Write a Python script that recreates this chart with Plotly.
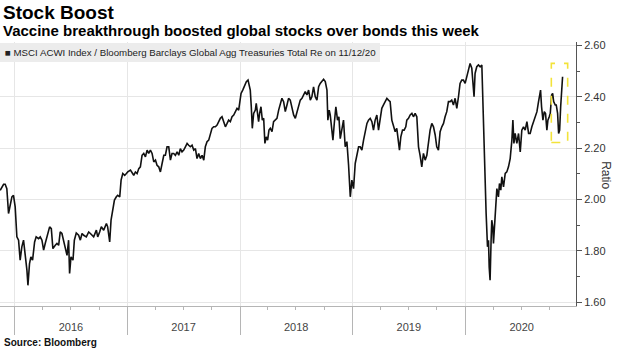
import datetime as dt
import plotly.graph_objects as go

# ---------------- data (decimal years -> ratio) ----------------
t_2016 = [2015.873, 2015.888, 2015.903, 2015.917, 2015.932, 2015.947, 2015.962, 2015.977, 2015.991,
          2016.006, 2016.021, 2016.036, 2016.050, 2016.065, 2016.080, 2016.095, 2016.110, 2016.119,
          2016.133, 2016.145, 2016.160, 2016.178, 2016.192, 2016.213, 2016.228, 2016.243, 2016.258,
          2016.272, 2016.287, 2016.311, 2016.326, 2016.340, 2016.361, 2016.376, 2016.391, 2016.405,
          2016.420, 2016.435, 2016.450, 2016.465, 2016.479, 2016.488, 2016.500, 2016.518, 2016.530,
          2016.547, 2016.568, 2016.583, 2016.598, 2016.613, 2016.636, 2016.657, 2016.672, 2016.701,
          2016.725, 2016.737, 2016.754, 2016.769, 2016.790, 2016.814, 2016.825, 2016.843, 2016.855,
          2016.867, 2016.885, 2016.902, 2016.914, 2016.932, 2016.944, 2016.959, 2016.976, 2016.991]
v_2016 = [2.035, 2.049, 2.059, 2.059, 2.042, 1.945, 1.977, 2.010, 2.016,
          1.971, 1.854, 1.841, 1.763, 1.815, 1.841, 1.789, 1.724, 1.665,
          1.750, 1.776, 1.763, 1.834, 1.854, 1.847, 1.854, 1.841, 1.802,
          1.828, 1.854, 1.893, 1.886, 1.808, 1.821, 1.828, 1.821, 1.873,
          1.867, 1.841, 1.808, 1.782, 1.841, 1.711, 1.776, 1.763, 1.841,
          1.869, 1.860, 1.841, 1.867, 1.860, 1.854, 1.873, 1.867, 1.854,
          1.880, 1.854, 1.873, 1.893, 1.880, 1.906, 1.893, 1.834, 1.919,
          1.945, 1.997, 2.010, 2.016, 2.010, 2.075, 2.101, 2.094, 2.101]

t_2017 = [2017.003, 2017.027, 2017.042, 2017.056, 2017.071, 2017.086, 2017.101, 2017.115, 2017.130,
          2017.145, 2017.160, 2017.175, 2017.189, 2017.204, 2017.219, 2017.234, 2017.249, 2017.263,
          2017.278, 2017.293, 2017.308, 2017.323, 2017.337, 2017.352, 2017.367, 2017.382, 2017.396,
          2017.411, 2017.426, 2017.441, 2017.456, 2017.470, 2017.485, 2017.500, 2017.515, 2017.530,
          2017.544, 2017.559, 2017.574, 2017.589, 2017.604, 2017.618, 2017.633, 2017.648, 2017.663,
          2017.678, 2017.692, 2017.707, 2017.722, 2017.737, 2017.751, 2017.766, 2017.781, 2017.796,
          2017.811, 2017.825, 2017.840, 2017.855, 2017.870, 2017.885, 2017.899, 2017.914, 2017.929,
          2017.944, 2017.959, 2017.973, 2017.988, 2017.997]
v_2017 = [2.107, 2.114, 2.101, 2.094, 2.107, 2.101, 2.120, 2.127, 2.172,
          2.179, 2.166, 2.192, 2.179, 2.192, 2.179, 2.146, 2.153, 2.133,
          2.127, 2.107, 2.140, 2.172, 2.172, 2.205, 2.205, 2.153, 2.179,
          2.179, 2.172, 2.185, 2.172, 2.198, 2.185, 2.192, 2.205, 2.218,
          2.211, 2.205, 2.211, 2.192, 2.198, 2.159, 2.179, 2.159, 2.172,
          2.153, 2.205, 2.225, 2.231, 2.251, 2.277, 2.283, 2.283, 2.290,
          2.303, 2.316, 2.322, 2.303, 2.283, 2.296, 2.309, 2.303, 2.322,
          2.329, 2.342, 2.355, 2.348, 2.374]

t_2018 = [2018.009, 2018.024, 2018.038, 2018.056, 2018.071, 2018.082, 2018.091, 2018.100, 2018.109,
          2018.121, 2018.136, 2018.144, 2018.156, 2018.165, 2018.174, 2018.186, 2018.198, 2018.210,
          2018.221, 2018.233, 2018.245, 2018.257, 2018.269, 2018.284, 2018.298, 2018.313, 2018.328,
          2018.343, 2018.357, 2018.372, 2018.387, 2018.402, 2018.417, 2018.431, 2018.446, 2018.461,
          2018.476, 2018.491, 2018.505, 2018.520, 2018.535, 2018.550, 2018.565, 2018.579, 2018.594,
          2018.609, 2018.624, 2018.638, 2018.653, 2018.668, 2018.683, 2018.698, 2018.712, 2018.727,
          2018.742, 2018.757, 2018.772, 2018.780, 2018.792, 2018.801, 2018.816, 2018.825, 2018.837,
          2018.851, 2018.866, 2018.878, 2018.890, 2018.905, 2018.919, 2018.934, 2018.949, 2018.964,
          2018.979, 2018.993]
v_2018 = [2.413, 2.426, 2.439, 2.459, 2.465, 2.439, 2.426, 2.361, 2.277,
          2.335, 2.348, 2.374, 2.342, 2.303, 2.335, 2.361, 2.309, 2.316,
          2.218, 2.244, 2.231, 2.270, 2.277, 2.264, 2.303, 2.309, 2.316,
          2.348, 2.374, 2.394, 2.381, 2.342, 2.368, 2.394, 2.387, 2.361,
          2.329, 2.316, 2.342, 2.368, 2.387, 2.394, 2.407, 2.420, 2.407,
          2.426, 2.387, 2.400, 2.439, 2.400, 2.387, 2.439, 2.452, 2.459,
          2.468, 2.459, 2.426, 2.309, 2.348, 2.329, 2.264, 2.231, 2.296,
          2.361, 2.309, 2.322, 2.237, 2.270, 2.309, 2.205, 2.225, 2.133,
          2.010, 2.075]

t_2019 = [2019.008, 2019.023, 2019.038, 2019.053, 2019.067, 2019.082, 2019.097, 2019.112, 2019.127,
          2019.141, 2019.156, 2019.171, 2019.185, 2019.200, 2019.215, 2019.230, 2019.244, 2019.259,
          2019.274, 2019.289, 2019.304, 2019.318, 2019.333, 2019.348, 2019.363, 2019.378, 2019.392,
          2019.407, 2019.416, 2019.428, 2019.443, 2019.457, 2019.472, 2019.481, 2019.496, 2019.511,
          2019.526, 2019.540, 2019.555, 2019.570, 2019.585, 2019.599, 2019.614, 2019.629, 2019.644,
          2019.659, 2019.673, 2019.688, 2019.703, 2019.718, 2019.733, 2019.747, 2019.762, 2019.777,
          2019.792, 2019.807, 2019.821, 2019.836, 2019.851, 2019.866, 2019.880, 2019.895, 2019.910,
          2019.925, 2019.940, 2019.954, 2019.969, 2019.984, 2019.999]
v_2019 = [2.042, 2.140, 2.179, 2.205, 2.205, 2.192, 2.231, 2.264, 2.296,
          2.309, 2.316, 2.303, 2.270, 2.309, 2.329, 2.270, 2.309, 2.355,
          2.368, 2.381, 2.394, 2.387, 2.381, 2.309, 2.290, 2.264, 2.277,
          2.231, 2.192, 2.244, 2.270, 2.270, 2.283, 2.309, 2.316, 2.329,
          2.335, 2.322, 2.335, 2.322, 2.205, 2.172, 2.127, 2.179, 2.153,
          2.172, 2.231, 2.270, 2.296, 2.283, 2.251, 2.205, 2.192, 2.264,
          2.283, 2.296, 2.322, 2.342, 2.381, 2.381, 2.387, 2.368, 2.394,
          2.355, 2.400, 2.452, 2.465, 2.465, 2.452]

t_2020 = [2020.014, 2020.028, 2020.043, 2020.058, 2020.067, 2020.078, 2020.087, 2020.102, 2020.117,
          2020.132, 2020.147, 2020.155, 2020.161, 2020.167, 2020.176, 2020.185, 2020.197, 2020.206,
          2020.212, 2020.220, 2020.229, 2020.235, 2020.244, 2020.250, 2020.259, 2020.271, 2020.280,
          2020.294, 2020.303, 2020.315, 2020.324, 2020.339, 2020.354, 2020.368, 2020.383, 2020.398,
          2020.413, 2020.422, 2020.431, 2020.442, 2020.457, 2020.472, 2020.487, 2020.501, 2020.516,
          2020.531, 2020.546, 2020.561, 2020.575, 2020.590, 2020.605, 2020.620, 2020.635, 2020.649,
          2020.658, 2020.667, 2020.676, 2020.688, 2020.700, 2020.711, 2020.723, 2020.732, 2020.744,
          2020.753, 2020.765, 2020.774, 2020.783, 2020.797, 2020.806, 2020.818, 2020.827, 2020.836,
          2020.845, 2020.853, 2020.862]
v_2020 = [2.478, 2.498, 2.530, 2.511, 2.439, 2.400, 2.491, 2.517, 2.524,
          2.517, 2.524, 2.387, 2.244, 2.179, 2.062, 1.945, 1.815, 1.841,
          1.737, 1.685, 1.841, 1.919, 1.893, 1.828, 1.893, 1.997, 2.042,
          2.010, 2.062, 2.036, 2.088, 2.049, 2.101, 2.107, 2.127, 2.159,
          2.231, 2.309, 2.218, 2.257, 2.218, 2.257, 2.185, 2.270, 2.283,
          2.270, 2.303, 2.257, 2.257, 2.283, 2.303, 2.316, 2.342, 2.381,
          2.413, 2.426, 2.361, 2.309, 2.342, 2.335, 2.270, 2.309, 2.322,
          2.335, 2.407, 2.413, 2.381, 2.368, 2.368, 2.335, 2.257, 2.270,
          2.361, 2.426, 2.478]

years = ["2016", "2017", "2018", "2019", "2020"]
y_ticks = [1.60, 1.80, 2.00, 2.20, 2.40, 2.60]

# highlighted "this week" box (dates / ratio values)
box_start, box_end = "2020-10-06", "2020-11-28"
box_low, box_high = 2.222, 2.530

title = "Stock Boost"
subtitle = "Vaccine breakthrough boosted global stocks over bonds this week"
legend_label = "MSCI ACWI Index / Bloomberg Barclays Global Agg Treasuries Total Re on 11/12/20"
source = "Source: Bloomberg"
axis_title = "Ratio"

# ---------------- helpers ----------------
def dec_to_date(t):
    y = int(t)
    start = dt.datetime(y, 1, 1)
    ndays = (dt.datetime(y + 1, 1, 1) - start).days
    return start + dt.timedelta(days=(t - y) * ndays)

t_all, v_all = [], []
for tt, vv in [(t_2016, v_2016), (t_2017, v_2017), (t_2018, v_2018), (t_2019, v_2019), (t_2020, v_2020)]:
    if len(tt) != len(vv):
        raise ValueError(f"length mismatch {len(tt)} vs {len(vv)} starting {tt[0]}")
    t_all += tt
    v_all += vv
dates = [dec_to_date(t) for t in t_all]

W, H = 620, 348
PL, PR, PT, PB = 0, 576, 42, 305.7  # plot area in pixels


def px(x):
    return (x - PL) / (PR - PL)


def py(y):
    return (PB - y) / (PB - PT)


x_range = ["2015-11-15", "2020-12-25"]
y_range = [1.5844, 2.6135]

fig = go.Figure()
fig.add_trace(go.Scatter(x=dates, y=v_all, mode="lines",
                         line=dict(color="#111111", width=1.6), showlegend=False,
                         hoverinfo="skip"))

fig.add_shape(type="rect", xref="x", yref="y", x0=box_start, x1=box_end, y0=box_low, y1=box_high,
              line=dict(color="#f3e33a", width=1.6, dash="dash"), fillcolor="rgba(0,0,0,0)")

# legend box
fig.add_shape(type="rect", xref="paper", yref="paper", x0=px(0), x1=px(380), y0=py(62), y1=py(43),
              line=dict(width=0), fillcolor="#ececec", layer="above")

year_starts = [f"{y}-01-01" for y in years]
year_mids = [f"{y}-07-02" for y in years]

fig.update_layout(
    width=W, height=H,
    margin=dict(l=PL, r=W - PR, t=PT, b=H - PB, pad=0),
    paper_bgcolor="white", plot_bgcolor="white",
    showlegend=False,
    xaxis=dict(type="date", range=x_range, tickmode="array", tickvals=year_starts,
               ticktext=[""] * len(years), ticks="outside", ticklen=28, tickcolor="#b5b5b5",
               tickwidth=1, showgrid=True, gridcolor="#e6e6e6", gridwidth=1,
               showline=True, linecolor="#b5b5b5", linewidth=1, zeroline=False,
               minor=dict(dtick="M3", tick0="2016-01-01", ticks="outside", ticklen=3,
                          tickcolor="#b5b5b5", showgrid=False),
               fixedrange=True),
    xaxis2=dict(type="date", range=x_range, overlaying="x", side="bottom", anchor="y",
                tickmode="array", tickvals=year_mids, ticktext=years, ticks="outside",
                ticklen=11, tickcolor="rgba(0,0,0,0)", showgrid=False, showline=False,
                zeroline=False, tickfont=dict(family="Liberation Sans, Arial", size=11, color="#444444")),
    yaxis=dict(side="right", range=y_range, tickmode="array", tickvals=y_ticks,
               ticktext=[f"{v:.2f}" for v in y_ticks], ticks="outside", ticklen=5,
               tickcolor="#555555", showline=True, linecolor="#555555", linewidth=1,
               showgrid=True, gridcolor="#e6e6e6", gridwidth=1, zeroline=False,
               minor=dict(dtick=0.1, tick0=1.5, ticks="outside", ticklen=3, tickcolor="#555555",
                          showgrid=False),
               tickfont=dict(family="Liberation Sans, Arial", size=11, color="#333333"),
               fixedrange=True),
)

fig.add_trace(go.Scatter(x=[], y=[], xaxis="x2", yaxis="y", showlegend=False))

ann = [
    dict(text=f"<b>{title}</b>", x=px(1), y=py(13), xanchor="left", yanchor="middle",
         font=dict(family="Liberation Sans, Arial", size=19, color="#000000")),
    dict(text=f"<b>{subtitle}</b>", x=px(1), y=py(31), xanchor="left", yanchor="middle",
         font=dict(family="Liberation Sans, Arial", size=15, color="#000000")),
    dict(text="■ " + legend_label, x=px(3), y=py(52.5), xanchor="left", yanchor="middle",
         font=dict(family="Liberation Sans, Arial", size=9.7, color="#222222")),
    dict(text=f"<b>{source}</b>", x=px(2), y=py(342), xanchor="left", yanchor="middle",
         font=dict(family="Liberation Sans, Arial", size=10, color="#111111")),
    dict(text=axis_title, x=px(606), y=py(175), xanchor="center", yanchor="middle", textangle=90,
         font=dict(family="Liberation Sans, Arial", size=12, color="#333333")),
]
for a in ann:
    a.update(xref="paper", yref="paper", showarrow=False)
    fig.add_annotation(**a)

fig.write_html("out.html", config={"displayModeBar": False, "staticPlot": True})
